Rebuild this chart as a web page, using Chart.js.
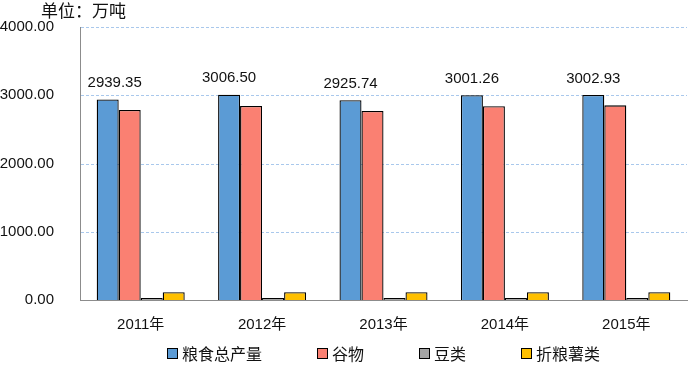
<!DOCTYPE html>
<html><head><meta charset="utf-8">
<script src="https://cdn.jsdelivr.net/npm/chart.js@4/dist/chart.umd.min.js"></script>
<style>html,body{margin:0;padding:0;background:#fff}#wrap{width:689px;height:366px;position:relative}</style>
</head><body><div id="wrap"><canvas id="c" width="689" height="366"></canvas></div>
<script>
const categories = ["2011年","2012年","2013年","2014年","2015年"];
const seriesNames = ["粮食总产量","谷物","豆类","折粮薯类"];
const grainTotal = [2939.35, 3006.50, 2925.74, 3001.26, 3002.93];
const cereals = [2784, 2842, 2770, 2838, 2852];
const beans = [30, 30, 30, 30, 30];
const tubers = [114, 114, 114, 114, 114];
const yTicks = [0, 1000, 2000, 3000, 4000];
const unitTitle = "单位：万吨";
const colors = ["#5B9BD5", "#FA8072", "#A5A5A5", "#FFC000"];

const FONT_NUM = "'Liberation Sans', 'Noto Sans CJK SC', sans-serif";
const FONT_CJK = "'Noto Sans CJK SC', sans-serif";

const overlay = {
  id: 'overlay',
  beforeDatasetsDraw(chart) {
    const ctx = chart.ctx;
    const ys = chart.scales.y;
    const area = chart.chartArea;
    ctx.save();
    ctx.strokeStyle = '#A9C8EC';
    ctx.lineWidth = 1;
    ctx.setLineDash([3, 2]);
    yTicks.forEach(v => {
      if (v === 0) return;
      const py = Math.round(ys.getPixelForValue(v)) + 0.5;
      ctx.beginPath();
      ctx.moveTo(area.left + 1, py);
      ctx.lineTo(area.right, py);
      ctx.stroke();
    });
    ctx.restore();
  },
  afterDatasetsDraw(chart) {
    const ctx = chart.ctx;
    ctx.save();
    const meta = chart.getDatasetMeta(0);
    ctx.fillStyle = '#111';
    ctx.font = "15px " + FONT_NUM;
    ctx.textAlign = 'center';
    ctx.textBaseline = 'bottom';
    meta.data.forEach((el, i) => {
      const dx = i === 0 ? 7 : 0;
      ctx.fillText(grainTotal[i].toFixed(2), el.x + dx, el.y - 9);
    });
    ctx.textAlign = 'left';
    ctx.textBaseline = 'top';
    ctx.font = "17px " + FONT_CJK;
    ctx.fillText(unitTitle, 41, 2);
    ctx.font = "16px " + FONT_CJK;
    ctx.textBaseline = 'middle';
    let x = 167;
    const y = 354;
    chart.data.datasets.forEach((ds, i) => {
      ctx.fillStyle = ds.backgroundColor;
      ctx.fillRect(x + 0.5, y - 5.5, 10, 10);
      ctx.strokeStyle = '#000';
      ctx.lineWidth = 1;
      ctx.strokeRect(x + 0.5, y - 5.5, 10, 10);
      ctx.fillStyle = '#111';
      ctx.fillText(ds.label, x + 15, y);
      x += 15 + ctx.measureText(ds.label).width + 55;
    });
    ctx.restore();
  }
};

const dataArrays = [grainTotal, cereals, beans, tubers];
new Chart(document.getElementById('c'), {
  type: 'bar',
  data: {
    labels: categories,
    datasets: seriesNames.map((n, i) => ({
      label: n,
      data: dataArrays[i],
      backgroundColor: colors[i],
      borderColor: '#000',
      borderWidth: 1.3,
      barPercentage: 1,
      categoryPercentage: 0.725
    }))
  },
  options: {
    responsive: false,
    animation: false,
    layout: { padding: { top: 27, left: 0, right: 2, bottom: 0 } },
    plugins: { legend: { display: false }, title: { display: false }, tooltip: { enabled: false } },
    scales: {
      x: {
        grid: { display: false },
        border: { color: '#8C8C8C', width: 1 },
        ticks: { color: '#111', font: { size: 15, family: FONT_NUM }, padding: 8 },
        afterFit(s) { s.height = 66; }
      },
      y: {
        min: 0, max: 4000,
        afterBuildTicks(s) { s.ticks = yTicks.map(v => ({ value: v })); },
        grid: { display: false },
        border: { color: '#8C8C8C', width: 1 },
        ticks: { color: '#111', font: { size: 15, family: FONT_NUM }, padding: 18,
          callback: v => Number(v).toFixed(2) },
        afterFit(s) { s.width = 80; }
      }
    }
  },
  plugins: [overlay]
});
</script></body></html>
